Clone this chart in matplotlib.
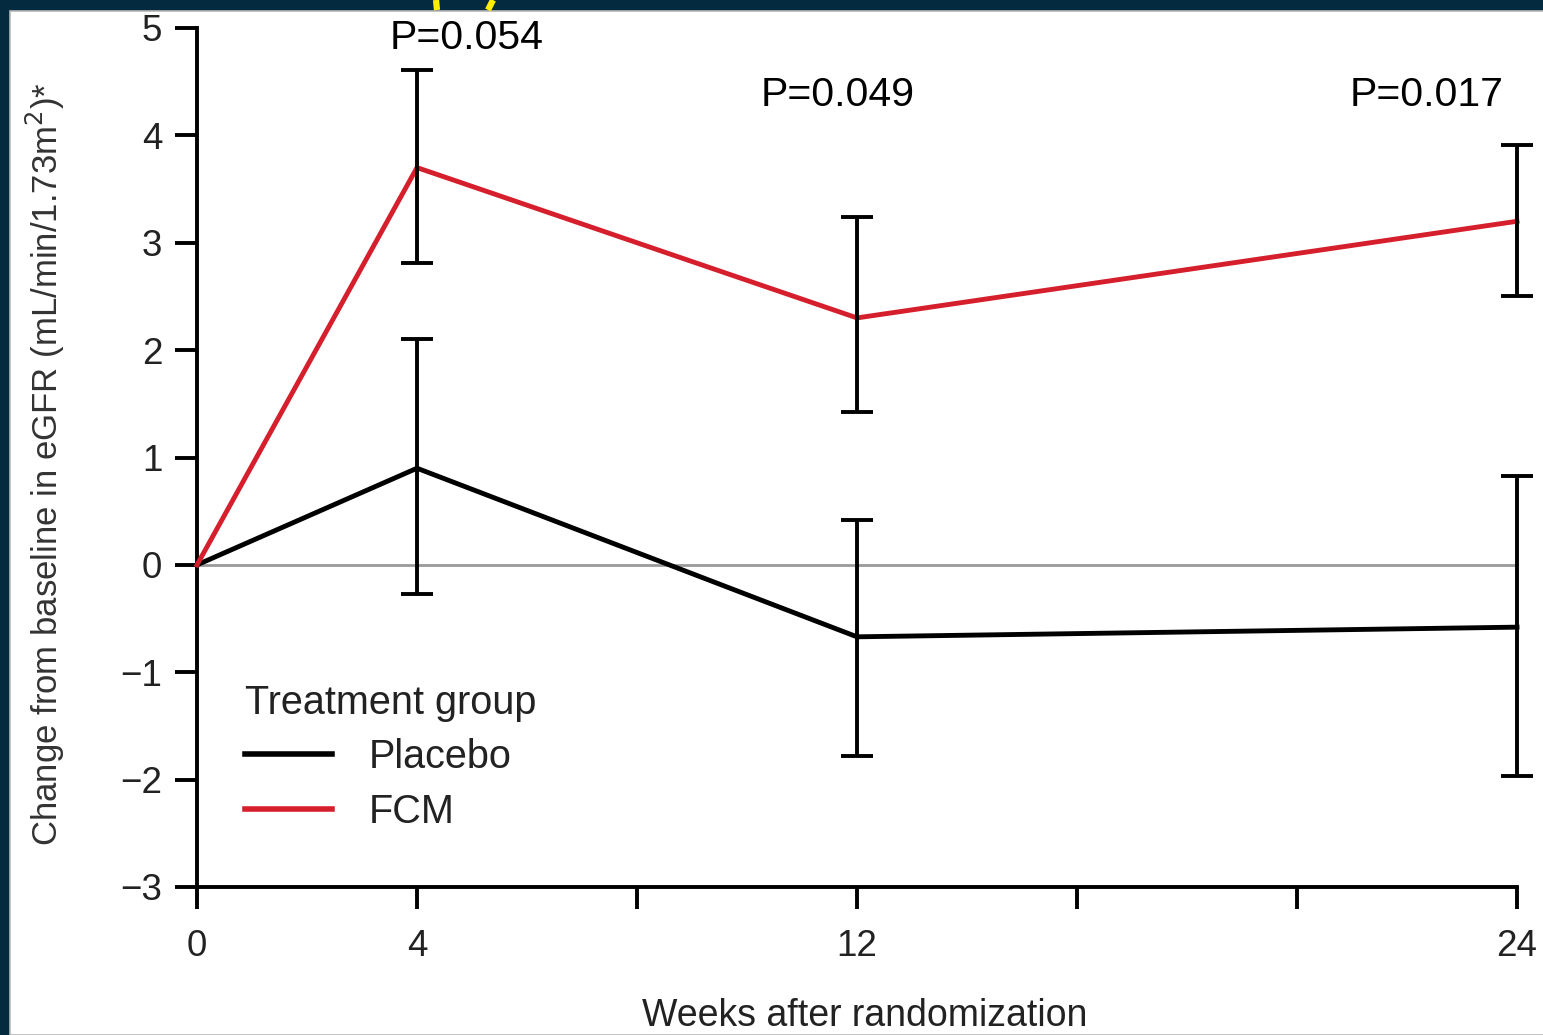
import matplotlib
matplotlib.use("Agg")
import matplotlib.pyplot as plt
from matplotlib.patches import Rectangle
from matplotlib.lines import Line2D

# Weeks after randomization
weeks = [0, 4, 12, 24]
tick_weeks = [0, 4, 8, 12, 16, 20, 24]
tick_labels = ["0", "4", "", "12", "", "", "24"]

# Mean change in eGFR with error-bar limits
placebo_mean = [0.0, 0.90, -0.67, -0.58]
placebo_upper = [0.0, 2.10, 0.42, 0.83]
placebo_lower = [0.0, -0.27, -1.78, -1.97]

fcm_mean = [0.0, 3.70, 2.30, 3.20]
fcm_upper = [0.0, 4.61, 3.24, 3.91]
fcm_lower = [0.0, 2.81, 1.42, 2.50]

p_labels = ["P=0.054", "P=0.049", "P=0.017"]
p_weeks = [4.9, 11.65, 22.35]
p_heights = [4.91, 4.38, 4.38]

yticks = [-3, -2, -1, 0, 1, 2, 3, 4, 5]

plt.rcParams['font.family'] = ['Liberation Sans', 'DejaVu Sans']

W, H = 1543, 1035
fig = plt.figure(figsize=(W / 100, H / 100), dpi=100)
fig.patch.set_facecolor('#032a3f')
fig.add_artist(Rectangle((10 / W, 0), 1, 1 - 11 / H,
                         transform=fig.transFigure, facecolor='white',
                         edgecolor='#b8b8b8', linewidth=1.2, zorder=0))
# fragments of the yellow heading above the frame
for x0, x1 in [(436, 437), (493, 488)]:
    fig.add_artist(Line2D([x0 / W, x1 / W], [1.0, 1 - 10 / H],
                          transform=fig.transFigure, color='#ffee00',
                          linewidth=4.5, solid_capstyle='butt', zorder=1))

ax = fig.add_axes([197 / W, 1 - 887 / H, (1517 - 197) / W, (887 - 28) / H])
ax.set_facecolor('none')

ax.axhline(0, color='#9a9a9a', linewidth=2.0, zorder=1)

ax.plot(weeks, placebo_mean, color='black', linewidth=3.5, zorder=3,
        label='Placebo', clip_on=False)
ax.plot(weeks, fcm_mean, color='#d61f2c', linewidth=3.5, zorder=3,
        label='FCM', clip_on=False)

for mean, up, lo in [(placebo_mean, placebo_upper, placebo_lower),
                     (fcm_mean, fcm_upper, fcm_lower)]:
    w = weeks[1:]
    m = mean[1:]
    yerr = [[a - b for a, b in zip(m, lo[1:])], [b - a for a, b in zip(m, up[1:])]]
    eb = ax.errorbar(w, m, yerr=yerr, fmt='none', ecolor='black', elinewidth=2.8,
                     capsize=11.5, capthick=2.8, zorder=4)
    for art in eb.lines[1] + eb.lines[2]:
        art.set_clip_on(False)

for lab, wx, hy in zip(p_labels, p_weeks, p_heights):
    ax.text(wx, hy, lab, ha='center', va='center', fontsize=29.5,
            color='black', clip_on=False)

ax.set_xlim(0, 24)
ax.set_ylim(-3, 5)
ax.set_xticks(tick_weeks)
ax.set_xticklabels(tick_labels)
ax.set_yticks(yticks)
ax.set_yticklabels([str(v).replace('-', '\u2212') for v in yticks])

for s in ['top', 'right']:
    ax.spines[s].set_visible(False)
for s in ['left', 'bottom']:
    ax.spines[s].set_linewidth(2.8)
ax.tick_params(axis='both', width=2.8, length=16, direction='out',
               labelsize=26.5, colors='black', labelcolor='#222222')
ax.tick_params(axis='x', pad=14)
ax.tick_params(axis='y', pad=9)

fig.text(45 / W, 1 - 464 / H, 'Change from baseline in eGFR (mL/min/1.73m$^2$)*',
         rotation=90, ha='center', va='center', fontsize=25, color='#333333')
fig.text(865 / W, 1 - 1016 / H, 'Weeks after randomization',
         ha='center', va='center', fontsize=27, color='#222222')

leg = ax.legend(title='Treatment group', loc='lower left',
                bbox_to_anchor=(0.009, 0.024), frameon=False, fontsize=28.5,
                title_fontsize=28.5, handlelength=2.2, handletextpad=0.95,
                labelspacing=0.42)
leg._legend_box.align = 'left'
for t in leg.get_texts():
    t.set_color('#222222')
for ln in leg.get_lines():
    ln.set_linewidth(4.0)
leg.get_title().set_color('#222222')

fig.savefig('out.png', dpi=100, facecolor=fig.get_facecolor())
